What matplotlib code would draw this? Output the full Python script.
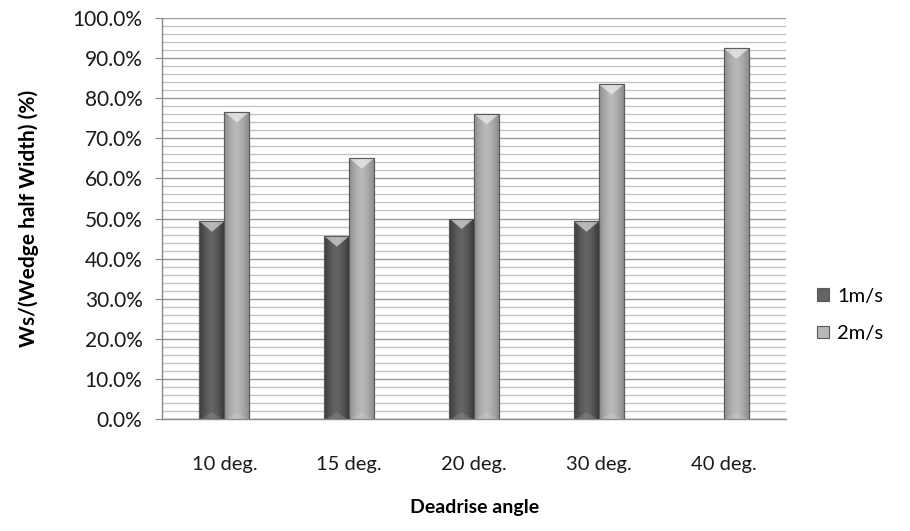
import numpy as np
import matplotlib
matplotlib.use('Agg')
from matplotlib import pyplot as plt
from matplotlib.patches import Polygon
from matplotlib.ticker import MultipleLocator, FuncFormatter

plt.rcParams['font.family'] = ['Lato', 'DejaVu Sans']

angles = ['10 deg.', '15 deg.', '20 deg.', '30 deg.', '40 deg.']
speed_1 = [49.3, 45.6, 50.0, 49.3, np.nan]   # 1m/s, no run at 40 deg.
speed_2 = [76.5, 65.0, 76.0, 83.4, 92.3]     # 2m/s
series = ['1m/s', '2m/s']

# (edge colour, centre colour) for the shaded bars
shades = [('#3a3a3a', '#646464'), ('#8c8c8c', '#b8b8b8')]

fig = plt.figure(figsize=(9.1, 5.31), dpi=100)
ax = fig.add_axes([0.178, 0.210, 0.686, 0.757])

x = np.arange(len(angles))
w = 0.2

def shaded_bars(xpos, vals, edge, centre, label):
    bars = ax.bar(xpos, vals, w, color=centre, edgecolor='#5a5a5a',
                  linewidth=0.8, label=label, zorder=3)
    c0 = np.array(matplotlib.colors.to_rgb(edge))
    c1 = np.array(matplotlib.colors.to_rgb(centre))
    t = np.linspace(-1, 1, 64)
    k = 1 - np.abs(t) ** 1.6
    grad = (c0[None, :] * (1 - k[:, None]) + c1[None, :] * k[:, None])[None, :, :]
    for b in bars:
        h = b.get_height()
        if not np.isfinite(h) or h <= 0:
            continue
        x0 = b.get_x()
        x1 = x0 + b.get_width()
        im = ax.imshow(grad, extent=[x0, x1, 0, h], aspect='auto',
                       interpolation='bilinear', zorder=3.5)
        im.set_clip_path(b)
        xc = (x0 + x1) / 2
        top = Polygon([[x0, h], [x1, h], [xc, h - 2.6]], closed=True,
                      facecolor=(1, 1, 1, 0.55), edgecolor='none', zorder=4)
        ax.add_patch(top)
        base = Polygon([[x0, 0], [x1, 0], [xc, 1.8]], closed=True,
                       facecolor=(1, 1, 1, 0.12), edgecolor='none', zorder=4)
        ax.add_patch(base)
        ax.add_patch(plt.Rectangle((x0, 0), x1 - x0, h, fill=False,
                                   edgecolor='#5a5a5a', linewidth=0.8, zorder=5))
    return bars

shaded_bars(x - w / 2, speed_1, *shades[0], series[0])
shaded_bars(x + w / 2, speed_2, *shades[1], series[1])

ax.set_xlim(-0.5, len(angles) - 0.5)
ax.set_ylim(0, 100)
ax.yaxis.set_major_locator(MultipleLocator(10))
ax.yaxis.set_minor_locator(MultipleLocator(2))
ax.yaxis.set_major_formatter(FuncFormatter(lambda v, p: f'{v:.1f}%'))
ax.grid(axis='y', which='major', color='#9a9a9a', linewidth=1.0, zorder=0)
ax.grid(axis='y', which='minor', color='#c4c4c4', linewidth=1.0, zorder=0)
ax.set_axisbelow(True)

ax.set_xticks(x)
ax.set_xticklabels(angles)
ax.tick_params(axis='x', length=0, pad=26, labelsize=14.5, colors='#1a1a1a')
ax.tick_params(axis='y', which='major', length=5, color='#8a8a8a',
               labelsize=15, colors='#1a1a1a', pad=9)
ax.tick_params(axis='y', which='minor', length=0)
for s in ['top', 'right']:
    ax.spines[s].set_visible(False)
for s in ['left', 'bottom']:
    ax.spines[s].set_color('#8a8a8a')
    ax.spines[s].set_linewidth(1.0)

ax.set_ylabel('Ws/(Wedge half Width) (%)', fontsize=15, fontweight='bold', labelpad=24)
ax.set_xlabel('Deadrise angle', fontsize=14, fontweight='bold', labelpad=19)

ax.legend(loc='center left', bbox_to_anchor=(1.02, 0.26), frameon=False,
          fontsize=14.5, handlelength=0.6, handleheight=0.6, labelspacing=1.0,
          handletextpad=0.4)

fig.savefig('out.png', dpi=100)
